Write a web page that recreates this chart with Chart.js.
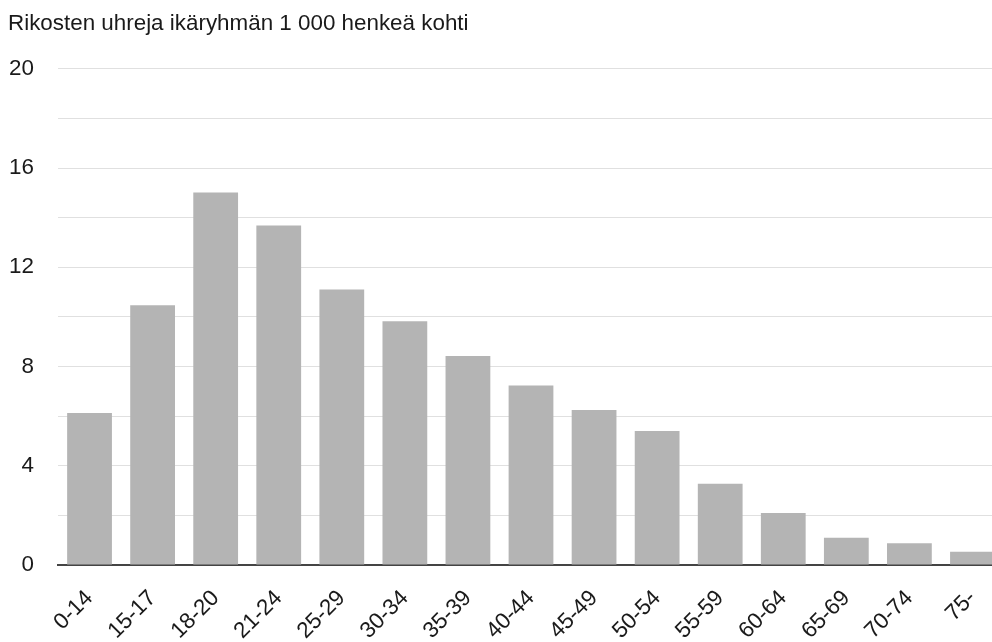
<!DOCTYPE html>
<html>
<head>
<meta charset="utf-8">
<script src="https://cdn.jsdelivr.net/npm/chart.js@4/dist/chart.umd.min.js"></script>
<style>
  html, body { margin: 0; padding: 0; background: #fff; overflow: hidden; }
  #wrap { width: 992px; height: 642px; overflow: hidden; position: relative; }
  canvas { display: block; }
</style>
</head>
<body>
<div id="wrap"><canvas id="c" width="1004" height="642"></canvas></div>
<script>
const titleText = "Rikosten uhreja ikäryhmän 1 000 henkeä kohti";
const categories = ["0-14", "15-17", "18-20", "21-24", "25-29", "30-34", "35-39", "40-44", "45-49", "50-54", "55-59", "60-64", "65-69", "70-74", "75-"];
const values = [6.13, 10.47, 15.02, 13.69, 11.11, 9.83, 8.43, 7.24, 6.25, 5.40, 3.28, 2.10, 1.10, 0.88, 0.53];
const yMin = 0, yMax = 20, yStep = 2, yLabelEvery = 4;

const FONT = "'Liberation Sans', Arial, sans-serif";

new Chart(document.getElementById('c'), {
  type: 'bar',
  data: {
    labels: categories,
    datasets: [{
      data: values,
      backgroundColor: '#b4b4b4',
      borderWidth: 0,
      categoryPercentage: 1.0,
      barPercentage: 0.71
    }]
  },
  options: {
    responsive: false,
    animation: false,
    devicePixelRatio: 1,
    layout: { padding: { left: 8, right: 0, top: 10, bottom: 0 } },
    plugins: {
      legend: { display: false },
      tooltip: { enabled: false },
      title: {
        display: true,
        text: titleText,
        align: 'start',
        color: '#1a1a1a',
        font: { family: FONT, size: 22.4, weight: 'normal' },
        padding: { top: 0, bottom: 32 }
      }
    },
    scales: {
      x: {
        grid: { display: false, drawTicks: false },
        border: { display: true, color: '#444', width: 2 },
        afterFit: (s) => { s.paddingLeft = 0; s.paddingRight = 0; s.height = 77; },
        ticks: {
          color: '#1a1a1a',
          font: { family: FONT, size: 22.4 },
          maxRotation: 45,
          minRotation: 45,
          autoSkip: false,
          padding: 20
        }
      },
      y: {
        min: yMin,
        max: yMax,
        grid: { color: '#e0e0e0', drawTicks: false, lineWidth: 1 },
        border: { display: false },
        afterFit: (s) => { s.paddingTop = 0; s.paddingBottom = 0; s.width = 50; },
        ticks: {
          stepSize: yStep,
          color: '#1a1a1a',
          font: { family: FONT, size: 22.4 },
          padding: 24,
          callback: (v) => (v % yLabelEvery === 0 ? String(v) : '')
        }
      }
    }
  }
});
</script>
</body>
</html>
